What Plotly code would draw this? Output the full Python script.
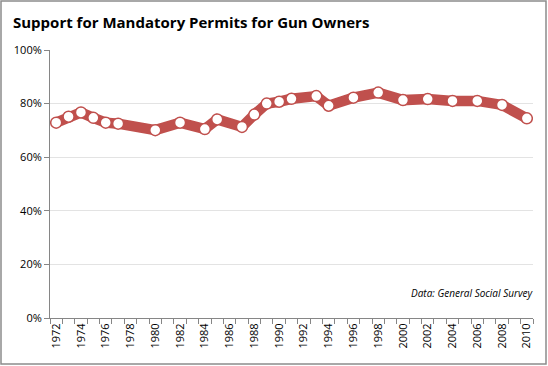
import plotly.graph_objects as go

years = [1972, 1973, 1974, 1975, 1976, 1977, 1980, 1982, 1984, 1985, 1987, 1988,
         1989, 1990, 1991, 1993, 1994, 1996, 1998, 2000, 2002, 2004, 2006, 2008, 2010]
support = [72.9, 75.1, 76.7, 74.7, 72.9, 72.5, 70.1, 72.9, 70.5, 74.1, 71.3, 75.9,
           80.0, 80.7, 81.8, 82.8, 79.2, 82.2, 84.1, 81.3, 81.7, 81.0, 81.0, 79.5, 74.5]
tick_years = list(range(1972, 2011, 2))
y_ticks = [0, 20, 40, 60, 80, 100]
y_labels = [f"{v}%" for v in y_ticks]

RED = "#C0504D"
FONT = "Open Sans, Liberation Sans, sans-serif"

fig = go.Figure()
fig.add_trace(go.Scatter(
    x=years, y=support, mode="lines+markers",
    line=dict(color=RED, width=10.5),
    marker=dict(color="white", size=11, line=dict(color=RED, width=1.5)),
    showlegend=False, hoverinfo="x+y",
))

L, R, T, B = 50, 15, 50, 48
W, H = 548, 366
pw, ph = W - L - R, H - T - B

fig.add_shape(type="rect", xref="paper", yref="paper",
              x0=(1 - L) / pw, x1=(W - 2 - L) / pw,
              y0=-(H - 2 - (H - B)) / ph, y1=(H - B - 1) / ph,
              line=dict(color="#8c8c8c", width=1.5), layer="below")

fig.add_annotation(text="<b>Support for Mandatory Permits for Gun Owners</b>",
                   xref="paper", yref="paper", x=(11 - L) / pw, y=(H - B - 22) / ph,
                   xanchor="left", yanchor="middle", showarrow=False,
                   font=dict(family=FONT, size=15, color="#000000"))
fig.add_annotation(text="<i>Data: General Social Survey</i>",
                   xref="paper", yref="paper", x=(535 - L) / pw, y=(H - B - 293) / ph,
                   xanchor="right", yanchor="middle", showarrow=False,
                   font=dict(family=FONT, size=10, color="#000000"))

fig.update_layout(
    width=W, height=H,
    margin=dict(l=L, r=R, t=T, b=B),
    paper_bgcolor="white", plot_bgcolor="white",
    font=dict(family=FONT, size=11, color="#000000"),
    xaxis=dict(
        range=[1971.5, 2010.5], tickmode="array", tickvals=tick_years,
        ticktext=[str(y) for y in tick_years], tickangle=-90,
        ticks="", showgrid=False, zeroline=False,
        showline=True, linecolor="#868686", linewidth=1,
        tickfont=dict(size=11),
        minor=dict(tickmode="linear", tick0=1971.5, dtick=1, ticks="outside",
                   ticklen=5, tickcolor="#868686", showgrid=False),
    ),
    yaxis=dict(
        range=[0, 100], tickmode="array", tickvals=y_ticks, ticktext=y_labels,
        ticks="outside", ticklen=5, tickcolor="#868686",
        showgrid=True, gridcolor="#e3e3e3", gridwidth=1, zeroline=False,
        showline=True, linecolor="#868686", linewidth=1,
        tickfont=dict(size=11),
    ),
)

fig.write_html("out.html", config={"displayModeBar": False},
               post_script="document.body.style.margin='0';")
